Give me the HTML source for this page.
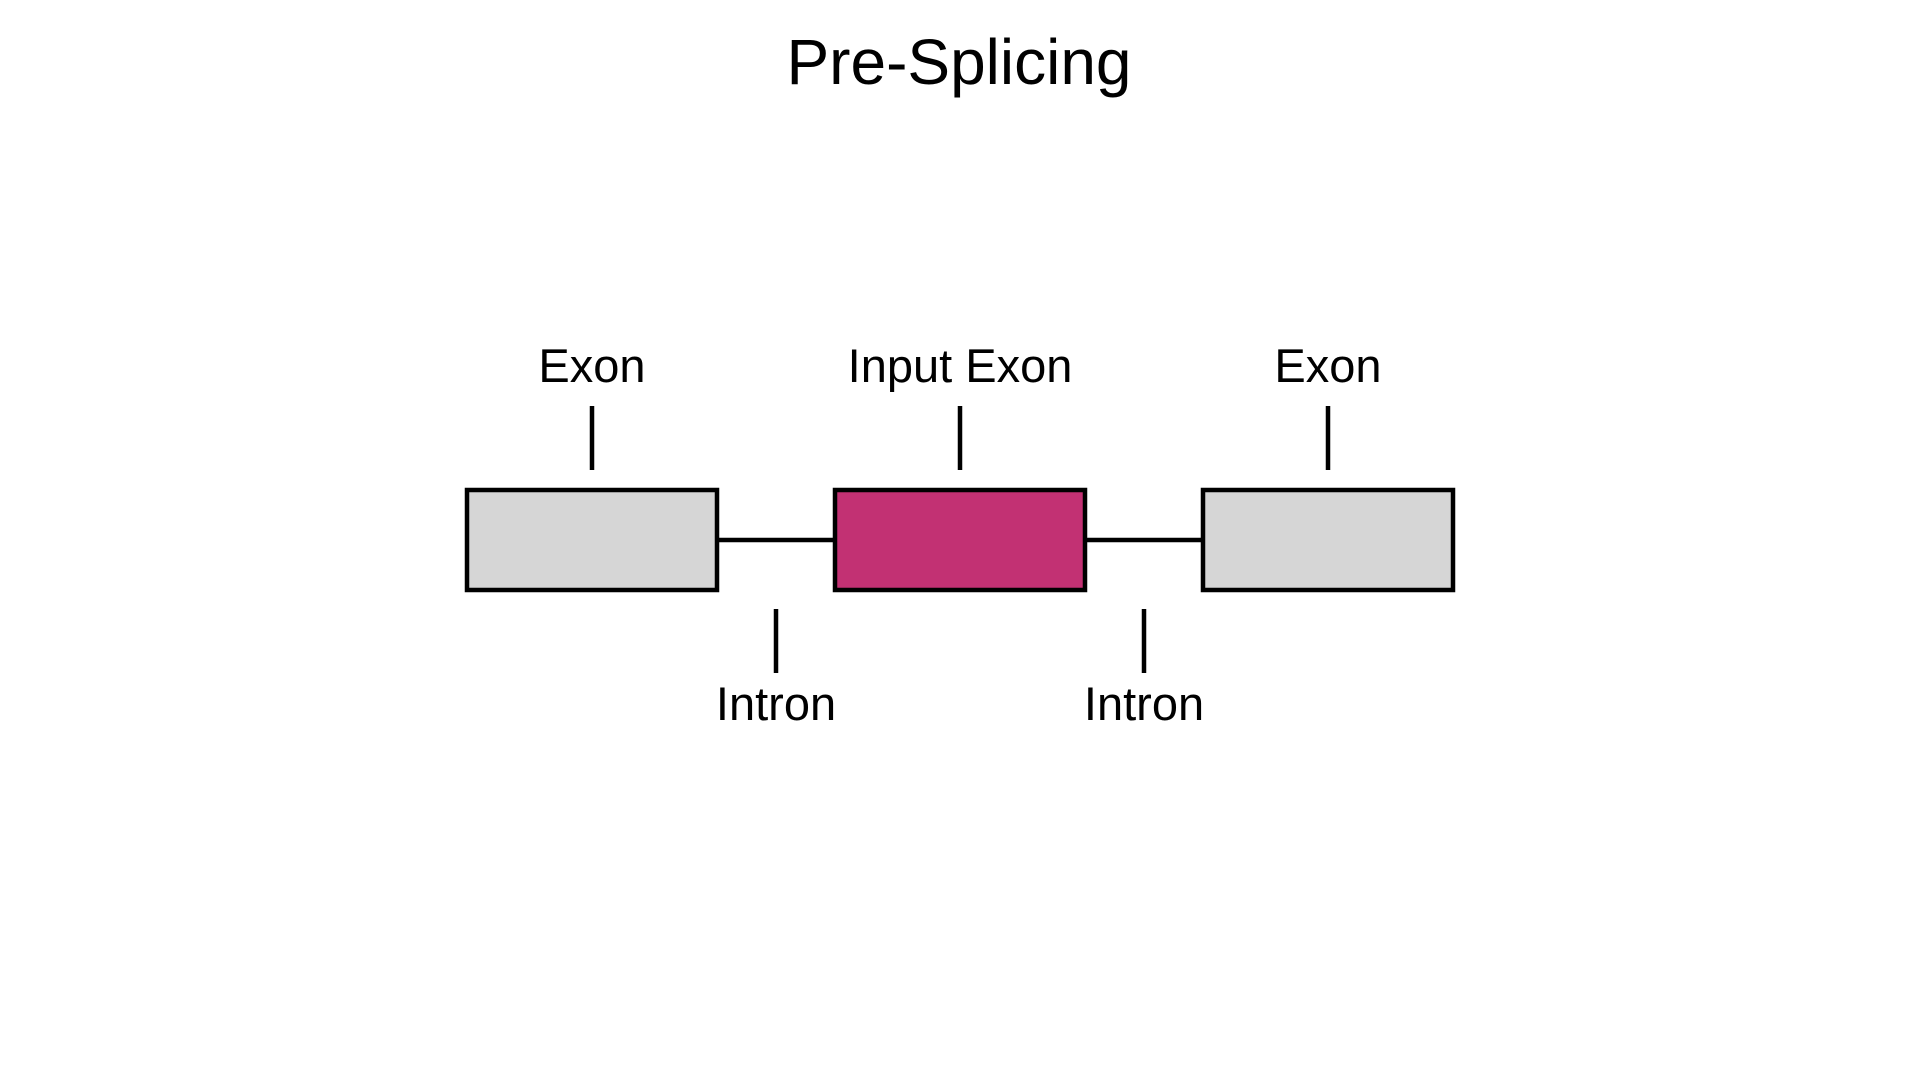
<!DOCTYPE html>
<html><head><style>html,body{margin:0;padding:0;background:#fff;width:1920px;height:1080px;overflow:hidden}</style></head>
<body>
<svg width="1920" height="1080" xmlns="http://www.w3.org/2000/svg" font-family="Liberation Sans, Arial, sans-serif">
<text x="959" y="84" font-size="64" text-anchor="middle" fill="#000">Pre-Splicing</text>
<g stroke="#000" stroke-width="4.5">
<line x1="717" y1="540" x2="835" y2="540"/>
<line x1="1085" y1="540" x2="1203" y2="540"/>
<rect x="467" y="490" width="250" height="100" fill="#d6d6d6"/>
<rect x="835" y="490" width="250" height="100" fill="#c23173"/>
<rect x="1203" y="490" width="250" height="100" fill="#d6d6d6"/>
<line x1="592" y1="406" x2="592" y2="470"/>
<line x1="960" y1="406" x2="960" y2="470"/>
<line x1="1328" y1="406" x2="1328" y2="470"/>
<line x1="776" y1="609" x2="776" y2="673"/>
<line x1="1144" y1="609" x2="1144" y2="673"/>
</g>
<g font-size="47" text-anchor="middle" fill="#000">
<text x="592" y="382">Exon</text>
<text x="960" y="382">Input Exon</text>
<text x="1328" y="382">Exon</text>
<text x="776" y="720">Intron</text>
<text x="1144" y="720">Intron</text>
</g>
</svg>
</body></html>
